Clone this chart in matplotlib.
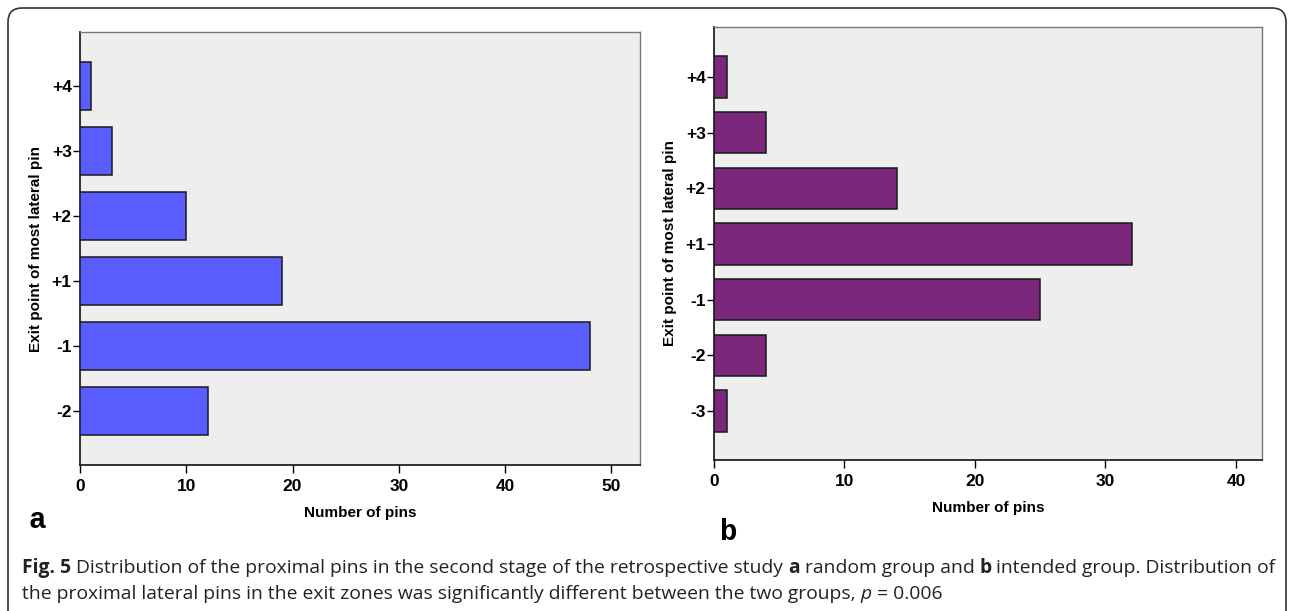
import matplotlib
matplotlib.use('Agg')
import matplotlib.pyplot as plt
from matplotlib.patches import FancyBboxPatch
from matplotlib.transforms import IdentityTransform
import numpy as np

# panel a: random group
catsA = ['-2', '-1', '+1', '+2', '+3', '+4']
pinsA = [12, 48, 19, 10, 3, 1]
# panel b: intended group
catsB = ['-3', '-2', '-1', '+1', '+2', '+3', '+4']
pinsB = [1, 4, 25, 32, 14, 4, 1]

xticksA = [0, 10, 20, 30, 40, 50]
xticksB = [0, 10, 20, 30, 40]

W, H = 1292, 611
plt.rcParams['font.family'] = ['Liberation Sans', 'DejaVu Sans']
fig = plt.figure(figsize=(W/100, H/100), dpi=100)

def px_axes(l, t, r, b):
    return fig.add_axes([l/W, 1-b/H, (r-l)/W, (b-t)/H])

def draw_panel(ax, cats, vals, color, xmax, ticks, ylo, yhi):
    pos = np.arange(len(cats))
    ax.barh(pos, vals, height=0.74, color=color, edgecolor='#1a1a1a', linewidth=1.1, zorder=3)
    ax.set_facecolor('#eeeeee')
    ax.set_xlim(0, xmax)
    ax.set_ylim(ylo, yhi)
    ax.set_yticks(pos)
    ax.set_yticklabels(cats, fontsize=12.5, fontweight='bold')
    ax.set_xticks(ticks)
    ax.set_xticklabels([str(t) for t in ticks], fontsize=12.5, fontweight='bold')
    ax.tick_params(axis='y', length=5, width=1, pad=1, direction='out')
    ax.tick_params(axis='x', length=6, width=1, pad=4, direction='out')
    for s in ['left', 'bottom']:
        ax.spines[s].set_color('#222222')
        ax.spines[s].set_linewidth(1.3)
    for s in ['top', 'right']:
        ax.spines[s].set_color('#777777')
        ax.spines[s].set_linewidth(1.0)
    ax.set_ylabel('Exit point of most lateral pin', fontsize=11, fontweight='bold', labelpad=6)
    ax.set_xlabel('Number of pins', fontsize=11, fontweight='bold', labelpad=9)

axA = px_axes(80, 32, 640, 465)
draw_panel(axA, catsA, pinsA, '#5a5eff', 52.7, xticksA, -0.83, 5.83)
axB = px_axes(714, 27, 1262, 460)
draw_panel(axB, catsB, pinsB, '#7b277b', 42.0, xticksB, -0.88, 6.9)

fig.text(28/W, 1-528/H, 'a', fontsize=21, fontweight='bold', family='Liberation Mono', va='baseline')
fig.text(720/W, 1-540/H, 'b', fontsize=21, fontweight='bold', family='Liberation Mono', va='baseline')

# rounded frame around the whole figure
frame = FancyBboxPatch((8, -30), 1278, 633, boxstyle='round,pad=0,rounding_size=14',
                       transform=IdentityTransform(), facecolor='none',
                       edgecolor='#333333', linewidth=1.2, clip_on=False)
fig.patches.append(frame)

line1 = [('Fig. 5', 'bold', 'normal'),
         (' Distribution of the proximal pins in the second stage of the retrospective study ', 'normal', 'normal'),
         ('a', 'bold', 'normal'),
         (' random group and ', 'normal', 'normal'),
         ('b', 'bold', 'normal'),
         (' intended group. Distribution of', 'normal', 'normal')]
line2 = [('the proximal lateral pins in the exit zones was significantly different between the two groups, ', 'normal', 'normal'),
         ('p', 'normal', 'italic'),
         (' = 0.006', 'normal', 'normal')]

renderer = fig.canvas.get_renderer()
cap_font = ['Open Sans', 'DejaVu Sans']
cap_size = 13.9

def place_line(pieces, x0, ybase, size):
    x = x0
    for txt, wt, st in pieces:
        t = fig.text(x/W, 1-ybase/H, txt, fontsize=size, fontweight=wt, fontstyle=st,
                     family=cap_font, va='baseline', ha='left', color='#222222')
        x += t.get_window_extent(renderer).width
    return x

place_line(line1, 22, 573, cap_size)
place_line(line2, 22, 599, cap_size)

fig.savefig('out.png', dpi=100)
